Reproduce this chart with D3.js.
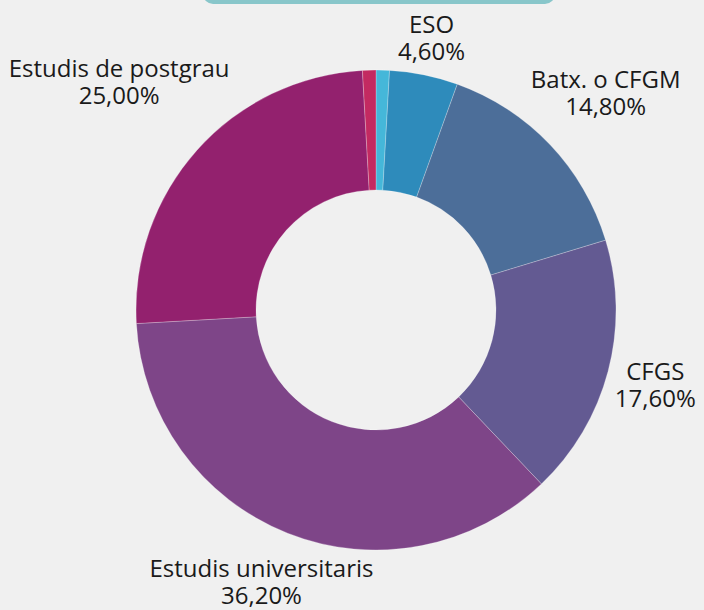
<!DOCTYPE html>
<html>
<head>
<meta charset="utf-8">
<script src="https://cdn.jsdelivr.net/npm/d3@7/dist/d3.min.js"></script>
<style>
html,body{margin:0;padding:0;background:#f0f0f0;}
svg{display:block;}
</style>
</head>
<body>
<svg id="chart" width="704" height="610"></svg>
<script>
const categories = ["Primària", "ESO", "Batx. o CFGM", "CFGS", "Estudis universitaris", "Estudis de postgrau", "Sense estudis"];
const values = [0.9, 4.6, 14.8, 17.6, 36.2, 25.0, 0.9];
const valueLabels = ["", "4,60%", "14,80%", "17,60%", "36,20%", "25,00%", ""];
const showLabel = [false, true, true, true, true, true, false];
const colors = ["#45b7d9", "#2e8bbb", "#4c6e99", "#635a92", "#7e4588", "#93216e", "#c32a61"];

const W = 704, H = 610;
const cx = 376, cy = 310, rOuter = 240, rInner = 120;
const svg = d3.select("#chart");

// top decorative band
svg.append("rect").attr("x", 203).attr("y", -30).attr("width", 352).attr("height", 34)
  .attr("rx", 10).attr("fill", "#88c6ca");

const data = categories.map((c, i) => ({cat: c, value: values[i], label: valueLabels[i], show: showLabel[i], color: colors[i]}));
const pie = d3.pie().value(d => d.value).sort(null);
const arc = d3.arc().innerRadius(rInner).outerRadius(rOuter);
const arcs = pie(data);

const g = svg.append("g").attr("transform", `translate(${cx},${cy})`);
g.selectAll("path.slice").data(arcs).join("path")
  .attr("class", "slice")
  .attr("d", arc)
  .attr("fill", d => d.data.color)
  .attr("stroke", "#ffffff").attr("stroke-opacity", 0.35).attr("stroke-width", 0.7);

const fontSize = 24, lineH = 27, gap = 2;
const lg = svg.append("g");
arcs.filter(d => d.data.show).forEach(d => {
  const a = (d.startAngle + d.endAngle) / 2;
  const ux = Math.sin(a), uy = -Math.cos(a);
  const t = lg.append("text")
    .attr("font-family", "'Open Sans', sans-serif")
    .attr("font-size", fontSize)
    .attr("fill", "#1a1a1a")
    .attr("text-anchor", "middle");
  t.append("tspan").attr("x", 0).attr("dy", 0).text(d.data.cat);
  t.append("tspan").attr("x", 0).attr("dy", lineH).text(d.data.label);
  const bb = t.node().getBBox();
  const ext = Math.abs(ux) * bb.width / 2 + Math.abs(uy) * bb.height / 2;
  const R = rOuter + gap + ext;
  let bx = cx + ux * R, by = cy + uy * R;
  // keep label block inside the canvas
  by = Math.max(bb.height / 2, Math.min(H - bb.height / 2 + 1, by));
  bx = Math.max(bb.width / 2, Math.min(W - bb.width / 2, bx));
  const dx = bx - (bb.x + bb.width / 2), dy = by - (bb.y + bb.height / 2);
  t.attr("transform", `translate(${dx},${dy})`);
});
</script>
</body>
</html>
